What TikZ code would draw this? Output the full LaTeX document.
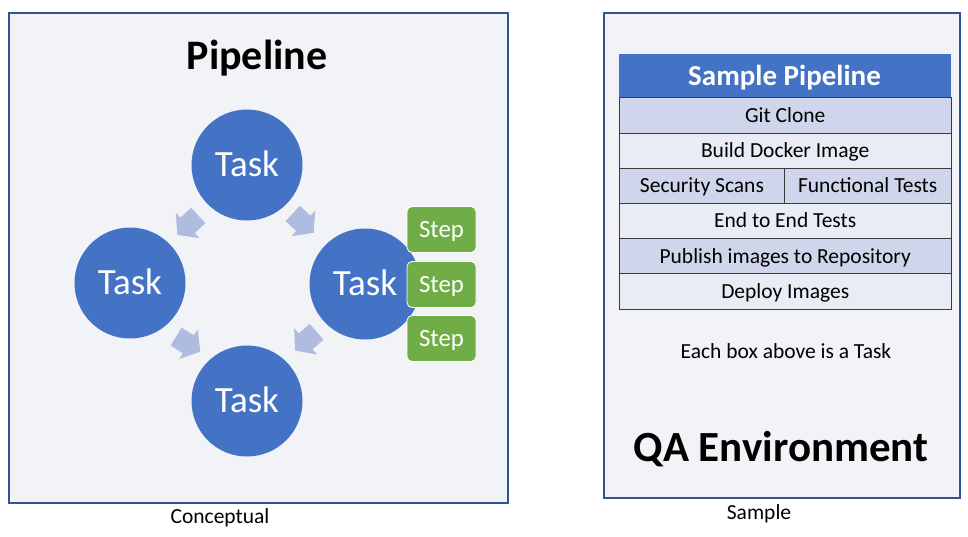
\documentclass[tikz,border=0pt]{standalone}
\usepackage{fontspec}
\setmainfont{Carlito}
\definecolor{panelfill}{HTML}{F2F3F7}
\definecolor{panelline}{HTML}{2F5597}
\definecolor{taskblue}{HTML}{4472C4}
\definecolor{stepgreen}{HTML}{70AD47}
\definecolor{arrowblue}{HTML}{AFBCDF}
\definecolor{rowdark}{HTML}{CFD5EA}
\definecolor{rowlight}{HTML}{E9EBF5}
\definecolor{rowline}{HTML}{3A3A3A}
\tikzset{
  panel/.style={draw=panelline, fill=panelfill, line width=1.3pt, anchor=north west, inner sep=0pt},
  taskcircle/.style={circle, fill=taskblue, minimum size=111pt, inner sep=0pt},
  tasktext/.style={inner sep=0pt, text=white, text height=23.8pt, text depth=0pt, font=\fontsize{37}{40}\selectfont},
  stepbox/.style={rectangle, rounded corners=5pt, fill=stepgreen, draw=white, line width=0.8pt, minimum width=69pt, minimum height=46pt, inner sep=0pt},
  steptext/.style={inner sep=0pt, text=white, text height=16pt, text depth=0pt, font=\fontsize{24.8}{28}\selectfont},
  rowbox/.style={rectangle, draw=rowline, line width=0.9pt, anchor=north west, minimum height=35.23pt, inner sep=0pt},
  plain/.style={inner sep=0pt, text height=13.85pt, text depth=0pt, font=\fontsize{21.5}{24}\selectfont},
  bigtitle/.style={inner sep=0pt, text height=27pt, text depth=0pt, font=\bfseries\fontsize{42}{48}\selectfont},
  blockarrow/.pic={\fill[arrowblue] (-14,-10.5) -- (0.5,-10.5) -- (0.5,-17.5) -- (14.5,0) -- (0.5,17.5) -- (0.5,10.5) -- (-14,10.5) -- cycle;}
}
\begin{document}
\begin{tikzpicture}[x=1pt,y=-1pt]
\useasboundingbox (0,0) rectangle (968,536);
\fill[white] (0,0) rectangle (968,536);
% panels
\node[panel, minimum width=499pt, minimum height=490pt] (leftpanel) at (8.3,12.3) {};
\node[panel, minimum width=356pt, minimum height=485pt] (rightpanel) at (603.3,12.3) {};
% left panel content
\node[bigtitle] (pipetitle) at (257,55.5) {Pipeline};
\pic at (188,225) [rotate=223] {blockarrow};
\pic at (303,223) [rotate=-43] {blockarrow};
\pic at (188,344) [rotate=-32] {blockarrow};
\pic at (306,341) [rotate=221] {blockarrow};
\node[taskcircle] (ttop) at (247,165) {};
\node[taskcircle] (tleft) at (130,283) {};
\node[taskcircle] (tright) at (365,284) {};
\node[taskcircle] (tbottom) at (247,401) {};
\foreach \t in {ttop,tleft,tright,tbottom}
  \node[tasktext] at (\t.center) {Task};
\node[stepbox] (step1) at (441.5,229.5) {};
\node[stepbox] (step2) at (441.5,284.5) {};
\node[stepbox] (step3) at (441.5,338.5) {};
\foreach \s in {step1,step2,step3}
  \node[steptext] at (\s.center) {Step};
% table
\node[rectangle, fill=taskblue, anchor=north west, minimum width=331.5pt, minimum height=43.3pt, inner sep=0pt] (header) at (619,54) {};
\node[inner sep=0pt, text=white, text height=18.7pt, text depth=0pt, font=\bfseries\fontsize{29}{32}\selectfont] (headertext) at (784.5,76.2) {Sample Pipeline};
\node[rowbox, fill=rowdark, minimum width=331.5pt] (r1) at (619,97.3) {};
\node[plain] at (r1.center) {Git Clone};
\node[rowbox, fill=rowlight, minimum width=331.5pt] (r2) at (619,132.53) {};
\node[plain] at (r2.center) {Build Docker Image};
\node[rowbox, fill=rowdark, minimum width=165pt] (r3a) at (619,167.76) {};
\node[plain] at (r3a.center) {Security Scans};
\node[rowbox, fill=rowdark, minimum width=166.5pt] (r3b) at (784,167.76) {};
\node[plain] at (r3b.center) {Functional Tests};
\node[rowbox, fill=rowlight, minimum width=331.5pt] (r4) at (619,202.99) {};
\node[plain] at (r4.center) {End to End Tests};
\node[rowbox, fill=rowdark, minimum width=331.5pt] (r5) at (619,238.22) {};
\node[plain] at (r5.center) {Publish images to Repository};
\node[rowbox, fill=rowlight, minimum width=331.5pt] (r6) at (619,273.45) {};
\node[plain] at (r6.center) {Deploy Images};
\node[plain] (note) at (786,352) {Each box above is a Task};
\node[bigtitle, font=\bfseries\fontsize{43}{48}\selectfont, text height=27.7pt] (qa) at (781,447.3) {QA Environment};
% captions
\node[plain] (cap1) at (220,516.3) {Conceptual};
\node[plain] (cap2) at (759,513) {Sample};
\end{tikzpicture}
\end{document}
